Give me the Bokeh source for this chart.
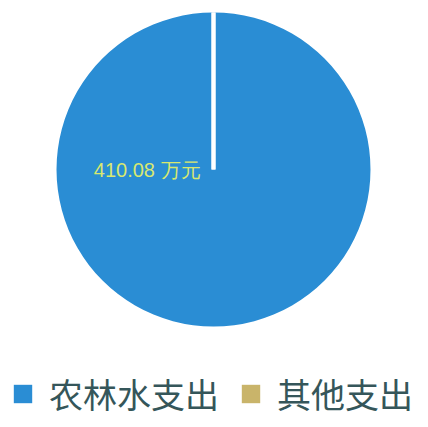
import math
from bokeh.plotting import figure
from bokeh.models import Legend, LegendItem
from bokeh.core.properties import value
from bokeh.embed import file_html
from bokeh.resources import INLINE

categories = ["农林水支出", "其他支出"]
amounts = [410.08, 0.0]
colors = ["#2a8dd4", "#c9b46a"]
label_text = ["410.08 万元", ""]

W, H = 418, 418
CX, CY, R = 213, 249, 157

total = sum(amounts)
starts, ends = [], []
acc = 0.0
for a in amounts:
    s = math.pi / 2 - 2 * math.pi * acc / total
    acc += a
    e = math.pi / 2 - 2 * math.pi * acc / total
    span = min(s - e, 2 * math.pi - 1e-3)
    starts.append(s - span)
    ends.append(s)

p = figure(width=W, height=H, x_range=(0, W), y_range=(0, H),
           output_backend="svg", toolbar_location=None, min_border=0)
p.axis.visible = False
p.grid.visible = False
p.outline_line_color = None
p.background_fill_color = "white"

items = []
for i, c in enumerate(categories):
    rad = R if amounts[i] > 0 else 0
    r = p.wedge(x=CX, y=CY, radius=rad, start_angle=starts[i], end_angle=ends[i],
                fill_color=colors[i], line_color=None)
    items.append(LegendItem(label=c, renderers=[r]))

# white boundary lines at slice edges
bx0, by0, bx1, by1 = [], [], [], []
for s in ends:
    bx0.append(CX); by0.append(CY)
    bx1.append(CX + R * math.cos(s)); by1.append(CY + R * math.sin(s))
p.segment(x0=bx0, y0=by0, x1=bx1, y1=by1, line_color="white", line_width=4)

# data label
p.text(x=[CX - 13], y=[CY], text=[label_text[0]], text_align="right",
       text_baseline="middle", text_color="#d8e870",
       text_font=value("Liberation Sans"), text_font_size="20px")

legend = Legend(items=items, orientation="horizontal", location=(11, 0),
                glyph_width=23, glyph_height=23, label_text_font_size="34px",
                label_text_font="Noto Sans CJK SC", label_text_color="#35565a",
                border_line_color=None, background_fill_alpha=0,
                padding=0, spacing=20, label_standoff=15, margin=0)
p.add_layout(legend, "center")

open("out.html", "w").write(file_html(p, INLINE))
